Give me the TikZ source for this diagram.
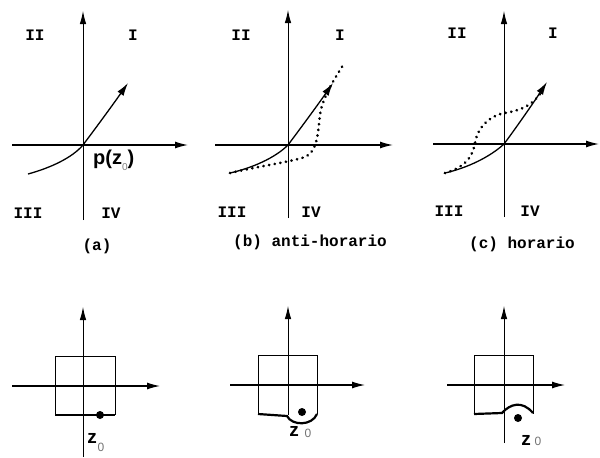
\documentclass[tikz,border=0pt]{standalone}
\usepackage{fontspec}
\setmainfont{Liberation Sans}
\newfontfamily\monof{Liberation Mono}
\usetikzlibrary{arrows.meta}
\begin{document}
\begin{tikzpicture}[x=1pt,y=-1pt,
  axisv/.style={line width=0.9pt,-{Latex[length=13pt,width=6.5pt]}},
  axish/.style={line width=1.4pt,-{Latex[length=13pt,width=7pt]}},
  curv/.style={line width=1.3pt},
  curva/.style={curv,-{Latex[length=13pt,width=7.5pt]}},
  dotc/.style={line width=2.9pt,dash pattern=on 0.1pt off 5.6pt,line cap=round},
  quad/.style={font=\monof\bfseries\fontsize{16}{16}\selectfont,inner sep=0pt},
  zlab/.style={font=\bfseries\fontsize{19}{19}\selectfont,inner sep=0pt,anchor=base},
  zsub/.style={font=\fontsize{12}{12}\selectfont,text=black!55,inner sep=0pt},
  boxl/.style={line width=0.9pt},
  bot/.style={line width=2.2pt},
  pt/.style={circle,fill=black,inner sep=0pt,minimum size=8pt},
]
\useasboundingbox (0,0) rectangle (600,458);

% ---------- top (a) ----------
\coordinate (aL) at (12,145); \coordinate (aR) at (188,145);
\coordinate (aB) at (83,220); \coordinate (aT) at (83,11);
\coordinate (aO) at (83,145); \coordinate (aS) at (28,174); \coordinate (aE) at (128,83);
\draw[axish] (aL) -- (aR);
\draw[axisv] (aB) -- (aT);
\draw[curva] (aS) .. controls (50,168) and (72,158) .. (aO) .. controls (92,133) and (112,106) .. (aE);
\node[quad] (aII) at (35,35) {II};
\node[quad] (aI) at (133,35) {I};
\node[quad] (aIII) at (28,213) {III};
\node[quad] (aIV) at (111,213) {IV};
\node[quad] (acap) at (97,246) {(a)};
\node[font=\bfseries\fontsize{20}{20}\selectfont,inner sep=0pt,anchor=base west] (apz) at (93,164)
  {p(z\raisebox{-6pt}{\fontsize{10}{10}\selectfont\mdseries\color{black!50}0})};

% ---------- top (b) ----------
\coordinate (bL) at (215,145); \coordinate (bR) at (393,145);
\coordinate (bB) at (288,218); \coordinate (bT) at (288,10);
\coordinate (bO) at (288,145); \coordinate (bS) at (230,173); \coordinate (bE) at (333,83);
\coordinate (bD) at (345,62);
\draw[axish] (bL) -- (bR);
\draw[axisv] (bB) -- (bT);
\draw[curva] (bS) .. controls (252,168) and (275,158) .. (bO) .. controls (297,133) and (317,106) .. (bE);
\draw[dotc] (bS) .. controls (260,166) and (290,162) .. (305,157)
  .. controls (318,152) and (318,130) .. (320,115)
  .. controls (322,98) and (335,78) .. (bD);
\node[quad] (bII) at (241,35) {II};
\node[quad] (bI) at (340,35) {I};
\node[quad] (bIII) at (232,212) {III};
\node[quad] (bIV) at (311,212) {IV};
\node[quad] (bcap) at (310,242) {(b) anti-horario};

% ---------- top (c) ----------
\coordinate (cL) at (433,144); \coordinate (cR) at (599,144);
\coordinate (cB) at (504,217); \coordinate (cT) at (504,11);
\coordinate (cO) at (504,144); \coordinate (cS) at (445,173); \coordinate (cE) at (547,82);
\draw[axish] (cL) -- (cR);
\draw[axisv] (cB) -- (cT);
\draw[curva] (cS) .. controls (467,168) and (490,157) .. (cO) .. controls (513,132) and (532,105) .. (cE);
\draw[dotc] (cS) .. controls (462,168) and (472,160) .. (475,143)
  .. controls (478,125) and (492,115) .. (505,113)
  .. controls (522,110) and (535,105) .. (545,86);
\node[quad] (cII) at (457,33) {II};
\node[quad] (cI) at (553,33) {I};
\node[quad] (cIII) at (449,211) {III};
\node[quad] (cIV) at (530,211) {IV};
\node[quad] (ccap) at (522,244) {(c) horario};

% ---------- bottom (a) ----------
\coordinate (dL) at (12,386); \coordinate (dR) at (160,386);
\coordinate (dB) at (83,457); \coordinate (dT) at (83,307);
\draw[axish,line width=1.2pt] (dL) -- (dR);
\draw[axisv] (dB) -- (dT);
\draw[boxl] (55,415) -- (55,356) -- (115,356) -- (115,415);
\draw[bot] (55,415) -- (115,415);
\node[pt] (dz) at (100,415) {};
\node[zlab] (dzl) at (92,443) {z};
\node[zsub] (dzs) at (101,447) {0};

% ---------- bottom (b) ----------
\coordinate (eL) at (230,385); \coordinate (eR) at (365,385);
\coordinate (eB) at (288,415); \coordinate (eT) at (288,306);
\draw[axish,line width=1.2pt] (eL) -- (eR);
\draw[axisv] (eB) -- (eT);
\draw[boxl] (258,414) -- (258,355) -- (317,355) -- (317,414);
\draw[bot] (258,414) -- (287,416) .. controls (292,426) and (312,426) .. (317,414);
\node[pt] (ez) at (302,412) {};
\node[zlab] (ezl) at (294,436) {z};
\node[zsub] (ezs) at (308,433) {0};

% ---------- bottom (c) ----------
\coordinate (fL) at (447,385); \coordinate (fR) at (565,385);
\coordinate (fB) at (504,443); \coordinate (fT) at (504,306);
\draw[axish,line width=1.2pt] (fL) -- (fR);
\draw[axisv] (fB) -- (fT);
\draw[boxl] (474,414) -- (474,355) -- (533,355) -- (533,414);
\draw[bot] (474,414) -- (502,413) .. controls (510,404) and (522,400) .. (533,413);
\node[pt] (fz) at (518,418) {};
\node[zlab] (fzl) at (526,445) {z};
\node[zsub] (fzs) at (538,441) {0};
\end{tikzpicture}
\end{document}
